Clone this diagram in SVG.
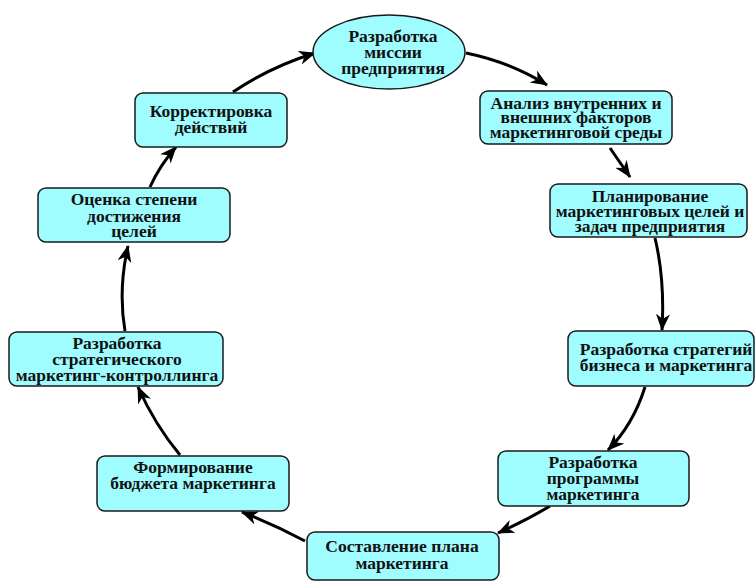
<svg xmlns="http://www.w3.org/2000/svg" width="755" height="582" viewBox="0 0 755 582">
  <style>
    .box { fill: #9ffcff; stroke: #1a1a1a; stroke-width: 1.5; }
    .lbl { font-family: "Liberation Serif", "Times New Roman", serif; font-weight: bold; font-size: 17.5px; fill: #111; text-anchor: middle; }
    .edge { fill: none; stroke: #000; stroke-width: 3; marker-end: url(#arrow); }
  </style>
  <defs>
    <marker id="arrow" markerUnits="userSpaceOnUse" markerWidth="18" markerHeight="16" refX="16" refY="7" orient="auto">
      <path d="M0,0 L17,7 L0,14 L5,7 z" fill="#000"/>
    </marker>
  </defs>
  <rect width="755" height="582" fill="#fff"/>

  <g id="connectors">
    <path class="edge" d="M466,53 Q510,62 547,85"/>
    <path class="edge" d="M610,148 L630,177"/>
    <path class="edge" d="M655,238 Q665,280 662,330"/>
    <path class="edge" d="M645,387 Q633,425 608,450"/>
    <path class="edge" d="M550,506 Q527,520 498,533"/>
    <path class="edge" d="M305,541 Q275,525 242,512"/>
    <path class="edge" d="M180,455 Q155,425 138,387"/>
    <path class="edge" d="M125,331 Q118,290 128,246"/>
    <path class="edge" d="M150,187 Q160,165 176,147"/>
    <path class="edge" d="M233,92 Q270,67 315,53"/>
  </g>

  <g id="mission">
    <ellipse class="box" cx="389" cy="52" rx="76" ry="37"/>
    <text class="lbl"><tspan x="393" y="42">Разработка</tspan><tspan x="393" y="58">миссии</tspan><tspan x="393" y="74">предприятия</tspan></text>
  </g>

  <g id="analysis">
    <rect class="box" x="480" y="91" width="192" height="53" rx="8"/>
    <text class="lbl"><tspan x="576" y="109">Анализ внутренних и</tspan><tspan x="576" y="123">внешних факторов</tspan><tspan x="576" y="138">маркетинговой среды</tspan></text>
  </g>

  <g id="planning">
    <rect class="box" x="550" y="184" width="197" height="53" rx="8"/>
    <text class="lbl"><tspan x="650" y="202">Планирование</tspan><tspan x="650" y="217">маркетинговых целей и</tspan><tspan x="650" y="232">задач предприятия</tspan></text>
  </g>

  <g id="strategy">
    <rect class="box" x="568" y="331" width="186" height="55" rx="8"/>
    <text class="lbl"><tspan x="666" y="355">Разработка стратегий</tspan><tspan x="666" y="371">бизнеса и маркетинга</tspan></text>
  </g>

  <g id="program">
    <rect class="box" x="498" y="451" width="191" height="55" rx="8"/>
    <text class="lbl"><tspan x="593" y="468">Разработка</tspan><tspan x="593" y="484">программы</tspan><tspan x="593" y="500">маркетинга</tspan></text>
  </g>

  <g id="plan">
    <rect class="box" x="307" y="532" width="192" height="48" rx="8"/>
    <text class="lbl"><tspan x="402" y="552">Составление плана</tspan><tspan x="402" y="569">маркетинга</tspan></text>
  </g>

  <g id="budget">
    <rect class="box" x="97" y="456" width="192" height="55" rx="8"/>
    <text class="lbl"><tspan x="193" y="473">Формирование</tspan><tspan x="193" y="489">бюджета маркетинга</tspan></text>
  </g>

  <g id="controlling">
    <rect class="box" x="9" y="332" width="214" height="54" rx="8"/>
    <text class="lbl"><tspan x="117" y="349">Разработка</tspan><tspan x="117" y="365">стратегического</tspan><tspan x="117" y="381">маркетинг-контроллинга</tspan></text>
  </g>

  <g id="evaluation">
    <rect class="box" x="38" y="188" width="192" height="54" rx="8"/>
    <text class="lbl"><tspan x="134" y="205">Оценка степени</tspan><tspan x="134" y="222">достижения</tspan><tspan x="134" y="237">целей</tspan></text>
  </g>

  <g id="correction">
    <rect class="box" x="135" y="93" width="152" height="54" rx="8"/>
    <text class="lbl"><tspan x="211" y="117">Корректировка</tspan><tspan x="211" y="133">действий</tspan></text>
  </g>
</svg>
